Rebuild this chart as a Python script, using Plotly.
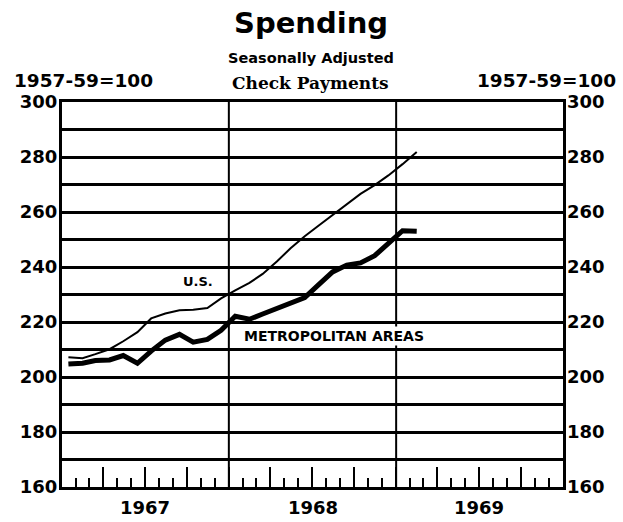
import plotly.graph_objects as go

# ---- data ----
months = [f"{y}-{m:02d}-15" for y in (1967, 1968) for m in range(1, 13)] + ["1969-01-15", "1969-02-15"]
us = [207.2, 206.8, 208.3, 210.1, 213.0, 216.3, 221.3, 223.1, 224.3, 224.5, 225.1, 228.6,
      231.5, 234.2, 237.5, 242.0, 246.8, 251.2, 255.0, 259.0, 263.0, 266.6, 269.8, 273.3,
      277.4, 281.8]
metro = [204.7, 205.0, 206.0, 206.2, 207.8, 205.0, 209.4, 213.4, 215.5, 212.7, 213.7, 217.0,
         222.1, 221.0, 222.9, 225.0, 227.1, 228.9, 233.5, 238.2, 240.7, 241.5, 244.1, 248.6,
         253.2, 253.0]
year_labels = ["1967", "1968", "1969"]
year_mid = ["1967-07-02", "1968-07-02", "1969-07-02"]
year_bounds = ["1968-01-01", "1969-01-01"]
y_ticks = [160, 180, 200, 220, 240, 260, 280, 300]

FONT = "DejaVu Sans"
fig = go.Figure()
fig.add_trace(go.Scatter(x=months, y=us, mode="lines", line=dict(color="black", width=2),
                         showlegend=False, hoverinfo="skip"))
fig.add_trace(go.Scatter(x=months, y=metro, mode="lines", line=dict(color="black", width=5),
                         showlegend=False, hoverinfo="skip"))

for b in year_bounds:
    fig.add_shape(type="line", xref="x", yref="paper", x0=b, x1=b, y0=0, y1=1,
                  line=dict(color="black", width=2), layer="above")

fig.update_layout(
    width=623, height=522,
    margin=dict(l=62, r=60, t=102, b=35, autoexpand=False),
    paper_bgcolor="white", plot_bgcolor="white",
    font=dict(family=FONT, color="black"),
    xaxis=dict(type="date", range=["1967-01-01", "1970-01-01"], automargin=False,
               showline=True, linewidth=3, linecolor="black", mirror=True,
               showgrid=False, zeroline=False, showticklabels=False,
               ticks="inside", ticklen=20, tickwidth=2, tickcolor="black",
               tick0="1967-01-01", dtick="M3",
               minor=dict(ticks="inside", ticklen=9, tickwidth=2, tickcolor="black",
                          dtick="M1", tick0="1967-01-01", showgrid=False)),
    yaxis=dict(range=[160, 300], tickvals=y_ticks, automargin=False, showline=True, linewidth=3,
               linecolor="black", mirror=True, showgrid=True, gridcolor="black",
               gridwidth=2.5, zeroline=False, ticks="",
               tickfont=dict(family=FONT, size=18, color="black", weight="bold"),
               ticklabelstandoff=-2,
               minor=dict(dtick=10, tick0=160, showgrid=True, gridcolor="black", gridwidth=2.5)),
    yaxis2=dict(range=[160, 300], tickvals=y_ticks, overlaying="y", side="right", automargin=False,
                showgrid=False, zeroline=False, ticks="", showline=False,
                tickfont=dict(family=FONT, size=18, color="black", weight="bold"),
                ticklabelstandoff=3),
)
# invisible trace to anchor right axis
fig.add_trace(go.Scatter(x=[months[0]], y=[200], yaxis="y2", mode="markers",
                         marker=dict(opacity=0), showlegend=False, hoverinfo="skip"))

def py(pix):
    return (487 - pix) / 385

def px(pix):
    return (pix - 62) / 501

ann = []
ann.append(dict(text="<b>Spending</b>", x=px(311), y=py(23), xref="paper", yref="paper",
                xanchor="center", yanchor="middle",
                showarrow=False, font=dict(family=FONT, size=29)))
ann.append(dict(text="<b>Seasonally Adjusted</b>", x=px(311), y=py(58), xref="paper", yref="paper",
                xanchor="center", yanchor="middle",
                showarrow=False, font=dict(family=FONT, size=14.5)))
ann.append(dict(text="<b>Check Payments</b>", x=px(310), y=py(83), xref="paper", yref="paper",
                xanchor="center", yanchor="middle",
                showarrow=False, font=dict(family="DejaVu Serif", size=17)))
ann.append(dict(text="<b>1957-59=100</b>", x=px(12), y=py(80), xref="paper", yref="paper",
                xanchor="left", yanchor="middle", showarrow=False, font=dict(family=FONT, size=18.5)))
ann.append(dict(text="<b>1957-59=100</b>", x=px(618), y=py(80), xref="paper", yref="paper",
                xanchor="right", yanchor="middle", showarrow=False, font=dict(family=FONT, size=18.5)))
for lbl, xm in zip(year_labels, year_mid):
    ann.append(dict(text=f"<b>{lbl}</b>", x=xm, y=py(508), xref="x", yref="paper",
                    xanchor="center", yanchor="middle",
                    showarrow=False, font=dict(family=FONT, size=18)))
ann.append(dict(text="<b>U.S.</b>", x="1967-10-25", y=234.7, xref="x", yref="y",
                xanchor="center", yanchor="middle",
                showarrow=False, font=dict(family=FONT, size=13), bgcolor="white"))
ann.append(dict(text="<b>METROPOLITAN AREAS</b>", x="1968-08-17", y=214.9, xref="x", yref="y",
                xanchor="center", yanchor="middle",
                showarrow=False, font=dict(family=FONT, size=14), bgcolor="white"))
fig.update_layout(annotations=ann)

fig.write_html("out.html", config={"displayModeBar": False},
               post_script="document.body.style.margin='0';")
